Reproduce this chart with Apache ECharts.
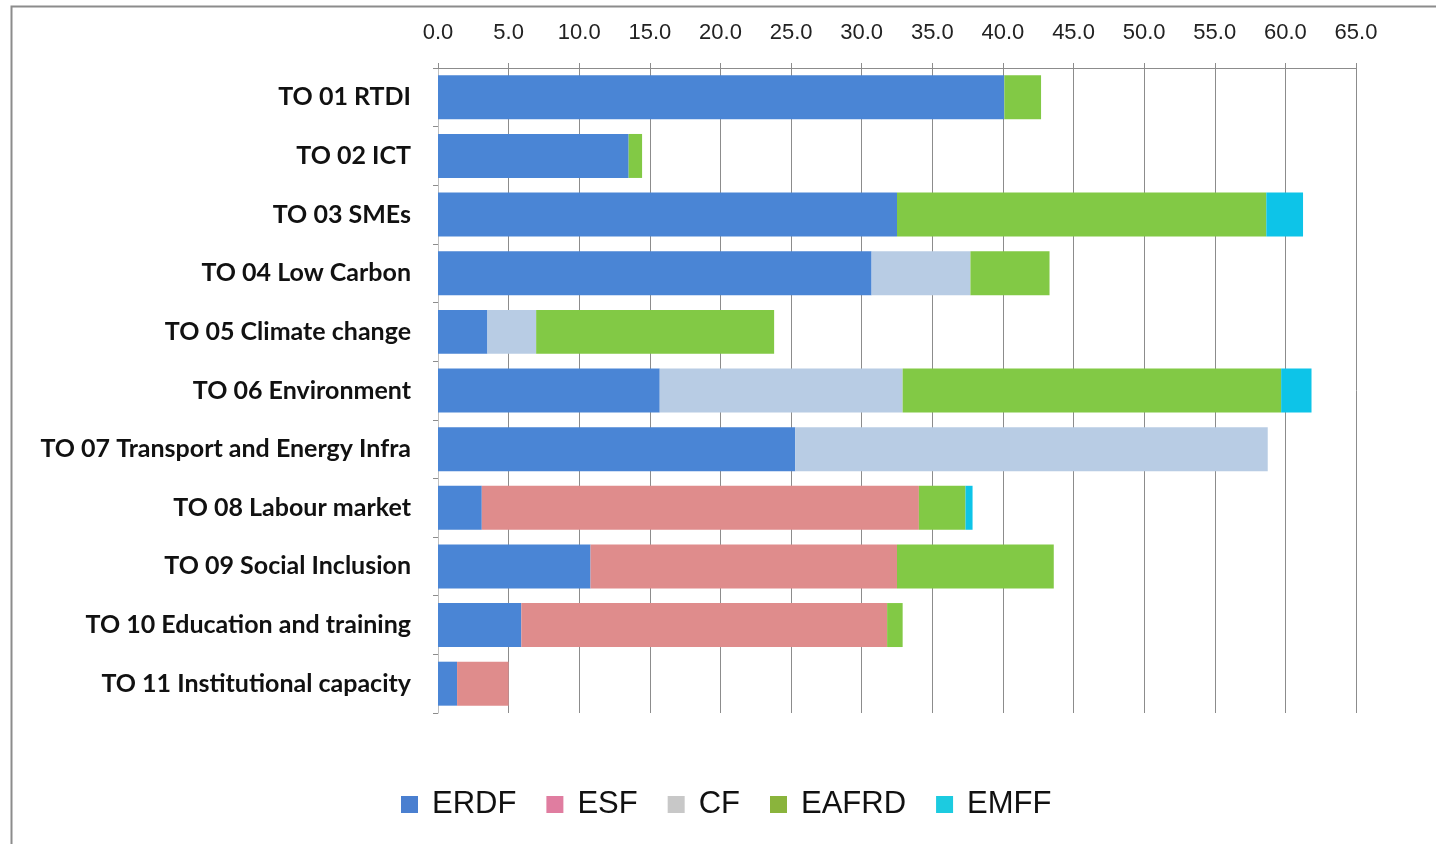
<!DOCTYPE html>
<html>
<head>
<meta charset="utf-8">
<script src="https://cdn.jsdelivr.net/npm/echarts@6/dist/echarts.min.js"></script>
<style>
  html, body { margin: 0; padding: 0; background: #fff; }
  #chart { width: 1436px; height: 844px; }
</style>
</head>
<body>
<div id="chart"></div>
<script>
// Thematic objectives (top to bottom)
const categories = [
  'TO 01 RTDI',
  'TO 02 ICT',
  'TO 03 SMEs',
  'TO 04 Low Carbon',
  'TO 05 Climate change',
  'TO 06 Environment',
  'TO 07 Transport and Energy Infra',
  'TO 08 Labour market',
  'TO 09 Social Inclusion',
  'TO 10 Education and training',
  'TO 11 Institutional capacity'
];

// Allocation per fund
const erdf  = [40.1, 13.5, 32.5, 30.7, 3.5, 15.7, 25.3, 3.1, 10.8, 5.9, 1.35];
const esf   = [0, 0, 0, 0, 0, 0, 0, 30.95, 21.7, 25.9, 3.65];
const cf    = [0, 0, 0, 7.0, 3.45, 17.2, 33.45, 0, 0, 0, 0];
const eafrd = [2.6, 0.95, 26.15, 5.6, 16.85, 26.8, 0, 3.3, 11.1, 1.1, 0];
const emff  = [0, 0, 2.6, 0, 0, 2.15, 0, 0.5, 0, 0, 0];

// Axis ticks
const tickMin = 0;
const tickMax = 65;
const tickStep = 5;

const funds = [
  { name: 'ERDF',  data: erdf,  color: '#4A85D5', legendColor: '#4A7FD0' },
  { name: 'ESF',   data: esf,   color: '#DF8C8C', legendColor: '#E07DA0' },
  { name: 'CF',    data: cf,    color: '#B8CCE4', legendColor: '#C8C8C8' },
  { name: 'EAFRD', data: eafrd, color: '#82C945', legendColor: '#8AB43C' },
  { name: 'EMFF',  data: emff,  color: '#0DC4E8', legendColor: '#1CCBE0' }
];

const chart = echarts.init(document.getElementById('chart'), null, { renderer: 'canvas' });

chart.setOption({
  backgroundColor: '#fff',
  animation: false,
  graphic: [{
    type: 'rect',
    left: 9, top: 4,
    shape: { width: 1500, height: 900 },
    style: { fill: 'none', stroke: '#8c8c8c', lineWidth: 2 },
    silent: true
  }],
  legend: {
    bottom: 19,
    left: 396,
    itemWidth: 17,
    itemHeight: 17,
    itemGap: 30,
    icon: 'rect',
    textStyle: {
      fontFamily: '"Liberation Sans Narrow", "Liberation Sans", sans-serif',
      fontSize: 31,
      color: '#111',
      padding: [0, 0, 0, 9]
    },
    data: funds.map(f => ({ name: f.name, itemStyle: { color: f.legendColor } }))
  },
  grid: { left: 438, right: 80, top: 68, bottom: 131 },
  xAxis: {
    type: 'value',
    position: 'top',
    min: tickMin,
    max: tickMax,
    interval: tickStep,
    axisLine: { show: true, lineStyle: { color: '#8c8c8c', width: 1 } },
    axisTick: { show: true, length: 5, lineStyle: { color: '#8c8c8c' } },
    splitLine: { show: true, lineStyle: { color: '#8c8c8c', width: 1 } },
    axisLabel: {
      margin: 24,
      fontFamily: '"Liberation Sans Narrow", "Liberation Sans", sans-serif',
      fontSize: 22,
      color: '#222',
      formatter: v => v.toFixed(1)
    }
  },
  yAxis: {
    type: 'category',
    inverse: true,
    data: categories,
    axisLine: { show: true, lineStyle: { color: '#bfbfbf' } },
    axisTick: { show: true, length: 5, lineStyle: { color: '#8c8c8c' } },
    axisLabel: {
      margin: 27,
      fontFamily: 'Lato, "Open Sans", sans-serif',
      fontWeight: 'bold',
      fontSize: 25,
      color: '#111'
    }
  },
  series: funds.map(f => ({
    name: f.name,
    type: 'bar',
    stack: 'total',
    barCategoryGap: '25%',
    data: f.data,
    itemStyle: { color: f.color }
  }))
});
</script>
</body>
</html>
